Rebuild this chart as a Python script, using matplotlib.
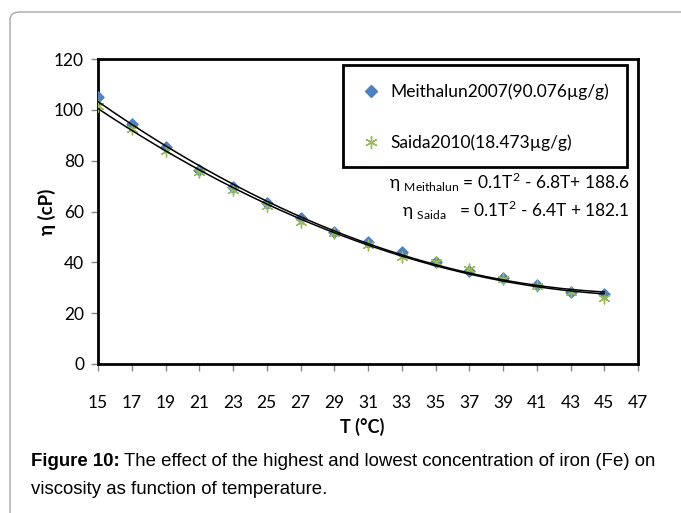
import numpy as np
import matplotlib.pyplot as plt
from matplotlib.patches import FancyBboxPatch, Rectangle
from matplotlib.lines import Line2D

# temperature (°C) and viscosity (cP)
temp = [15, 17, 19, 21, 23, 25, 27, 29, 31, 33, 35, 37, 39, 41, 43, 45]
eta_meithalun = [105, 94.5, 85.5, 76.5, 69.5, 63.5, 57.5, 52, 48, 44,
                 40, 36.5, 34, 31, 28.5, 27.5]
eta_saida = [101.5, 92.5, 84, 75.5, 68.5, 62, 56, 51.5, 47, 42,
             40, 37.5, 33.5, 30.5, 28.5, 26]
xticks = list(range(15, 48, 2))
yticks = [0, 20, 40, 60, 80, 100, 120]
labels = ["Meithalun2007(90.076\u00b5g/g)", "Saida2010(18.473\u00b5g/g)"]
eq_labels = [("Meithalun", " = 0.1T$^2$ - 6.8T+ 188.6"),
             ("Saida", "   = 0.1T$^2$ - 6.4T + 182.1")]

blue = "#4F81BD"
green = "#9BBB59"
font = ["Lato", "DejaVu Sans"]

plt.rcParams["mathtext.fontset"] = "custom"
plt.rcParams["mathtext.rm"] = "Lato"

W, H = 681, 513
fig = plt.figure(figsize=(W / 100, H / 100), dpi=100)


def px(x0, y0, w, h):
    # pixel box (top-left origin) -> figure fraction
    return [x0 / W, 1 - (y0 + h) / H, w / W, h / H]


# outer rounded page border (only top and left visible)
border = FancyBboxPatch((10 / W, -0.2), 1.2, 1 - 12 / H + 0.2,
                        boxstyle="round,pad=0,rounding_size=0.015",
                        transform=fig.transFigure, facecolor="none",
                        edgecolor="#A6A6A6", linewidth=1.0)
fig.patches.append(border)

ax = fig.add_axes(px(98, 59, 540, 305))

ax.scatter(temp, eta_meithalun, marker="D", s=32, color=blue, zorder=3)
ax.scatter(temp, eta_saida, marker=(6, 2, 0), s=60, color=green,
           linewidths=1.0, zorder=3)

tt = np.linspace(15, 45, 200)
for ys in (eta_meithalun, eta_saida):
    c = np.polyfit(temp, ys, 2)
    ax.plot(tt, np.polyval(c, tt), color="black", lw=1.1, zorder=4)

ax.set_xlim(15, 47)
ax.set_ylim(0, 120)
ax.set_xticks(xticks)
ax.set_yticks(yticks)
for s in ax.spines.values():
    s.set_linewidth(2)
    s.set_color("black")
ax.tick_params(axis="both", direction="out", length=5, width=1,
               color="#868686", labelsize=12.5)
ax.tick_params(axis="x", pad=17)
ax.tick_params(axis="y", pad=5)
for lab in ax.get_xticklabels() + ax.get_yticklabels():
    lab.set_family(font)

ax.set_xlabel("T (\u00b0C)", fontsize=13, fontweight="bold",
              family=font, va="center")
ax.xaxis.set_label_coords((362 - 98) / 540, -(427 - 364) / 305)
ax.yaxis.set_label_coords(-(98 - 47) / 540, 0.49)
ax.set_ylabel("\u03b7 (cP)", fontsize=13.5, fontweight="bold",
              family=font, va="center")

# legend box
handles = [Line2D([], [], ls="none", marker="D", ms=6, color=blue),
           Line2D([], [], ls="none", marker=(6, 2, 0), ms=9,
                  color=green, mew=1.0)]
fig.patches.append(Rectangle((343 / W, 1 - 167 / H), 284 / W, 102 / H,
                             transform=fig.transFigure, facecolor="white",
                             edgecolor="black", linewidth=2, zorder=5))
leg = fig.legend(handles, labels, loc="upper left",
                 bbox_to_anchor=(346 / W, 1 - 68 / H), frameon=False,
                 prop={"family": font, "size": 12.5}, labelspacing=1.95,
                 handletextpad=0.55, handlelength=1.1)
leg.set_zorder(6)

# fitted equations
for i, (sub, rest) in enumerate(eq_labels):
    fig.text(630 / W, 1 - (182 + 28 * i) / H,
             "\u03b7 $_{\\mathrm{" + sub + "}}$" + rest,
             ha="right", va="center", fontsize=12.5, family=font)

# caption
cap_font = "Liberation Sans"
t1 = fig.text(31 / W, 1 - 462 / H, "Figure 10:", fontsize=13.4,
              fontweight="bold", family=cap_font, va="center")
fig.canvas.draw()
bb = t1.get_window_extent()
fig.text((bb.x1 + 4) / W, 1 - 462 / H,
         "The effect of the highest and lowest concentration of iron (Fe) on",
         fontsize=13.4, family=cap_font, va="center")
fig.text(31 / W, 1 - 489 / H, "viscosity as function of temperature.",
         fontsize=13.4, family=cap_font, va="center")

fig.savefig("out.png", dpi=100)
